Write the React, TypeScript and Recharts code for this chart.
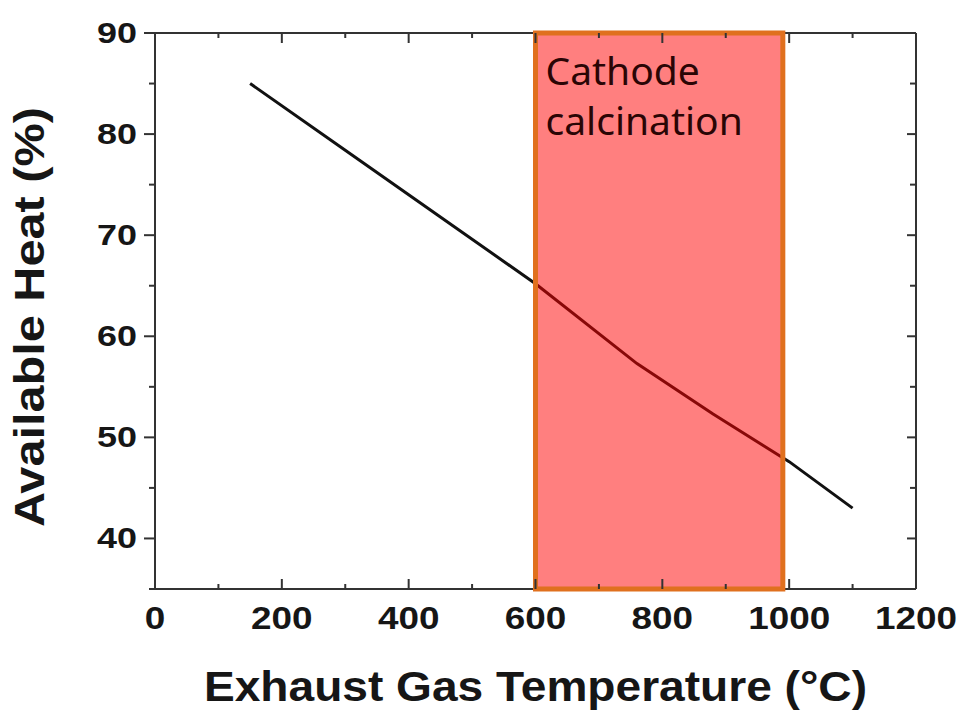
import { LineChart, Line, XAxis, YAxis, ReferenceArea, Label } from "recharts";

const temperature = [150, 300, 450, 600, 760, 880, 1000, 1100];
const availableHeat = [85, 78.4, 71.8, 65.2, 57.3, 52.3, 47.6, 43.0];
const xTicks = [0, 100, 200, 300, 400, 500, 600, 700, 800, 900, 1000, 1100, 1200];
const yTicks = [35, 40, 45, 50, 55, 60, 65, 70, 75, 80, 85, 90];
const calcinationRange = [600, 990];
const calcinationText = ["Cathode", "calcination"];

const data = temperature.map((t, i) => ({ temp: t, heat: availableHeat[i] }));

const AXIS = "#333";
const TEXT = "#161616";
const FONT = "'Liberation Sans', Arial, sans-serif";

function BottomTick(props: any) {
  const { x, y, payload } = props;
  const v = payload.value;
  const major = v % 200 === 0;
  return (
    <g>
      <line x1={x} x2={x} y1={y} y2={y - (major ? 10 : 5)} stroke={AXIS} strokeWidth={2} />
      {major && (
        <text x={x} y={y + 40} textAnchor="middle" fontFamily={FONT} fontWeight="bold"
          fontSize={32} fill={TEXT} textLength={String(v).length * 20.5} lengthAdjust="spacingAndGlyphs">
          {v}
        </text>
      )}
    </g>
  );
}

function LeftTick(props: any) {
  const { x, y, payload } = props;
  const v = payload.value;
  const major = v % 10 === 0;
  return (
    <g>
      <line x1={x} x2={x - (major ? 11 : 6)} y1={y} y2={y} stroke={AXIS} strokeWidth={2} />
      {major && (
        <text x={x - 18} y={y + 10} textAnchor="end" fontFamily={FONT} fontWeight="bold"
          fontSize={29} fill={TEXT} textLength={String(v).length * 20} lengthAdjust="spacingAndGlyphs">
          {v}
        </text>
      )}
    </g>
  );
}

function TopTick(props: any) {
  const { x, y, payload } = props;
  const major = payload.value % 200 === 0;
  return <line x1={x} x2={x} y1={y} y2={y + (major ? 10 : 5)} stroke={AXIS} strokeWidth={2} />;
}

function RightTick(props: any) {
  const { x, y, payload } = props;
  const major = payload.value % 10 === 0;
  return <line x1={x} x2={x - (major ? 9 : 6)} y1={y} y2={y} stroke={AXIS} strokeWidth={2} />;
}

function CalcinationLabel(props: any) {
  const { viewBox } = props;
  const x = viewBox.x + 10;
  const y = viewBox.y;
  return (
    <g>
      {calcinationText.map((t, i) => (
        <text key={t} x={x} y={y + 52 + i * 50} fontFamily="'Noto Sans', sans-serif" fontSize={39} fill="#2a0505">
          {t}
        </text>
      ))}
    </g>
  );
}

function XTitle(props: any) {
  const { viewBox } = props;
  return (
    <text x={viewBox.x + viewBox.width / 2} y={viewBox.y + 112} textAnchor="middle" fontFamily={FONT}
      fontWeight="bold" fontSize={42} fill={TEXT} textLength={663} lengthAdjust="spacingAndGlyphs">
      Exhaust Gas Temperature (°C)
    </text>
  );
}

function YTitle(props: any) {
  const { viewBox } = props;
  const cx = 44;
  const cy = viewBox.y + viewBox.height / 2 + 6;
  return (
    <text x={cx} y={cy} transform={`rotate(-90, ${cx}, ${cy})`} textAnchor="middle" fontFamily={FONT}
      fontWeight="bold" fontSize={42} fill={TEXT} textLength={420} lengthAdjust="spacingAndGlyphs">
      Available Heat (%)
    </text>
  );
}

export default function App() {
  return (
    <div style={{ position: "absolute", left: 0, top: 0, background: "#fff" }}>
      <LineChart width={964} height={719} data={data} margin={{ top: 32, right: 47, bottom: 0, left: 0 }}>
        <XAxis dataKey="temp" type="number" domain={[0, 1200]} ticks={xTicks} interval={0}
          tickSize={0} tickMargin={0} tickLine={false} tick={(p: any) => <BottomTick {...p} />}
          axisLine={{ stroke: AXIS, strokeWidth: 2 }} height={130}>
          <Label content={(p: any) => <XTitle {...p} />} />
        </XAxis>
        <XAxis xAxisId="top" orientation="top" dataKey="temp" type="number" domain={[0, 1200]} ticks={xTicks}
          interval={0} tickSize={0} tickMargin={0} tickLine={false} tick={(p: any) => <TopTick {...p} />}
          axisLine={{ stroke: AXIS, strokeWidth: 2 }} height={1} />
        <YAxis type="number" domain={[35, 90]} ticks={yTicks} interval={0} tickSize={0} tickMargin={0}
          tickLine={false} tick={(p: any) => <LeftTick {...p} />} axisLine={{ stroke: AXIS, strokeWidth: 2 }} width={155}>
          <Label content={(p: any) => <YTitle {...p} />} />
        </YAxis>
        <YAxis yAxisId="right" orientation="right" type="number" domain={[35, 90]} ticks={yTicks} interval={0}
          tickSize={0} tickMargin={0} tickLine={false} tick={(p: any) => <RightTick {...p} />}
          axisLine={{ stroke: AXIS, strokeWidth: 2 }} width={1} />
        {/* invisible twin so the mirror axes on top/right get drawn */}
        <Line xAxisId="top" yAxisId="right" dataKey="heat" type="linear" stroke="none" strokeOpacity={0}
          dot={false} activeDot={false} legendType="none" isAnimationActive={false} />
        <Line dataKey="heat" type="linear" stroke="#111" strokeWidth={3} dot={false} isAnimationActive={false} />
        <ReferenceArea x1={calcinationRange[0]} x2={calcinationRange[1]} y1={35} y2={90} fill="#ff0000"
          fillOpacity={0.5} stroke="#e0701e" strokeWidth={5} ifOverflow="visible" zIndex={800}
          label={(p: any) => <CalcinationLabel {...p} />} />
      </LineChart>
    </div>
  );
}
